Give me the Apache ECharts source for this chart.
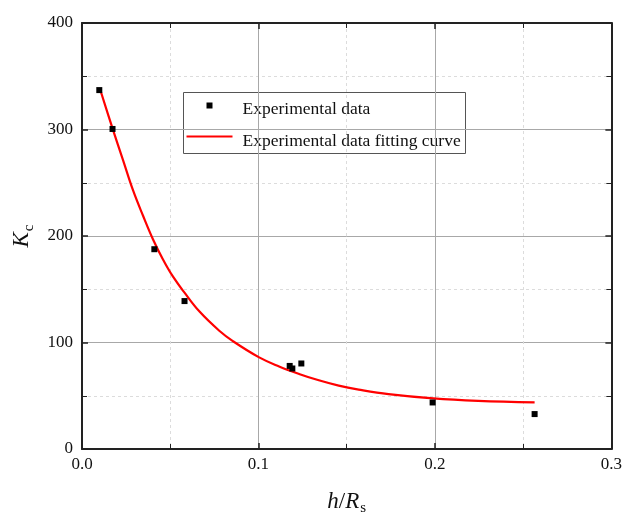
<!DOCTYPE html>
<html><head><meta charset="utf-8">
<script src="https://cdn.jsdelivr.net/npm/echarts@6/dist/echarts.min.js"></script>
<style>html,body{margin:0;padding:0;background:#fff}#c{width:625px;height:522px}</style>
</head><body><div id="c"></div>
<script>
// Experimental data points [h/Rs, Kc]
const expX = [0.0098, 0.0173, 0.0410, 0.0581, 0.1177, 0.1192, 0.1243, 0.1987, 0.2565];
const expY = [337.0, 300.5, 187.6, 138.9, 78.0, 75.6, 80.3, 43.7, 32.8];
// Fitting curve
const fitX = [0.0102, 0.0173, 0.0233, 0.0289, 0.0346, 0.0402, 0.0459, 0.0515, 0.0580, 0.0666, 0.0778, 0.0853, 0.1004, 0.1117, 0.1230, 0.1342, 0.1455, 0.1568, 0.1737, 0.1991, 0.2245, 0.2565];
const fitY = [338, 301, 271, 243, 219, 197, 178, 162, 147, 129, 111, 101.5, 86, 77.5, 70.5, 64.5, 59.5, 55.8, 51.5, 47.5, 45.2, 43.7];
const xTicks = ['0.0', '0.1', '0.2', '0.3'];
const yTicks = ['0', '100', '200', '300', '400'];
const legendNames = ['Experimental data', 'Experimental data fitting curve'];

const FONT = 'Liberation Serif';
const chart = echarts.init(document.getElementById('c'));
const frame = {show: true, onZero: false, lineStyle: {color: '#222', width: 2}};
const tickIn = {show: true, inside: true, length: 6, lineStyle: {color: '#222', width: 1.5}};
const minorT = {show: true, splitNumber: 2, length: 5, lineStyle: {color: '#222', width: 1}};
function xa(pos, main) {
  return {
    type: 'value', position: pos, min: 0, max: 0.3, interval: 0.1,
    axisLine: frame, axisTick: tickIn, minorTick: minorT,
    axisLabel: main ? {show: true, color: '#111', fontFamily: FONT, fontSize: 17, margin: 7,
      formatter: v => xTicks[Math.round(v * 10)]} : {show: false},
    splitLine: {show: main, lineStyle: {color: '#a8a8a8', width: 1}},
    minorSplitLine: {show: main, lineStyle: {color: '#dcdcdc', type: [3, 3], width: 1}},
    name: main ? '{i|h}{n|/}{i|R}{s|s}' : '',
    nameLocation: 'middle', nameGap: 38,
    nameTextStyle: {rich: {
      i: {fontFamily: FONT, fontStyle: 'italic', fontSize: 23, color: '#111'},
      n: {fontFamily: FONT, fontSize: 23, color: '#111'},
      s: {fontFamily: FONT, fontSize: 15, color: '#111', padding: [14, 0, 0, 1]}
    }}
  };
}
function ya(pos, main) {
  return {
    type: 'value', position: pos, min: 0, max: 400, interval: 100,
    axisLine: frame, axisTick: tickIn, minorTick: minorT,
    axisLabel: main ? {show: true, color: '#111', fontFamily: FONT, fontSize: 17, margin: 9,
      formatter: v => yTicks[Math.round(v / 100)]} : {show: false},
    splitLine: {show: main, lineStyle: {color: '#a8a8a8', width: 1}},
    minorSplitLine: {show: main, lineStyle: {color: '#dcdcdc', type: [3, 3], width: 1}},
    name: main ? '{i|K}{s|c}' : '',
    nameLocation: 'middle', nameGap: 37, nameRotate: 90,
    nameTextStyle: {rich: {
      i: {fontFamily: FONT, fontStyle: 'italic', fontSize: 23, color: '#111'},
      s: {fontFamily: FONT, fontSize: 15, color: '#111', padding: [14, 0, 0, 1]}
    }}
  };
}
chart.setOption({
  animation: false,
  backgroundColor: '#fff',
  grid: {left: 82, right: 11, top: 23, bottom: 73},
  xAxis: [xa('bottom', true), xa('top', false)],
  yAxis: [ya('left', true), ya('right', false)],
  series: [
    {name: legendNames[1], type: 'line', xAxisIndex: 0, yAxisIndex: 0, smooth: 0.4, showSymbol: false,
      lineStyle: {color: '#ff0000', width: 2.2}, data: fitX.map((x, i) => [x, fitY[i]]), z: 3},
    {name: legendNames[0], type: 'scatter', xAxisIndex: 0, yAxisIndex: 0, symbol: 'rect', symbolSize: 6,
      itemStyle: {color: '#000', opacity: 1}, data: expX.map((x, i) => [x, expY[i]]), z: 4}
  ],
  graphic: [
    {type: 'group', left: 183, top: 92, z: 100, children: [
      {type: 'rect', shape: {x: 0, y: 0, width: 282, height: 61}, style: {fill: '#fff', stroke: '#555', lineWidth: 1}},
      {type: 'rect', shape: {x: 23, y: 10, width: 6, height: 6}, style: {fill: '#000'}},
      {type: 'line', shape: {x1: 3, y1: 44, x2: 49, y2: 44}, style: {stroke: '#ff0000', lineWidth: 2.2}},
      {type: 'text', x: 59, y: 17, style: {text: legendNames[0], fontFamily: FONT, fontSize: 17.5, fill: '#111', verticalAlign: 'middle'}},
      {type: 'text', x: 59, y: 49, style: {text: legendNames[1], fontFamily: FONT, fontSize: 17.5, fill: '#111', verticalAlign: 'middle'}}
    ]}
  ]
});
</script></body></html>
